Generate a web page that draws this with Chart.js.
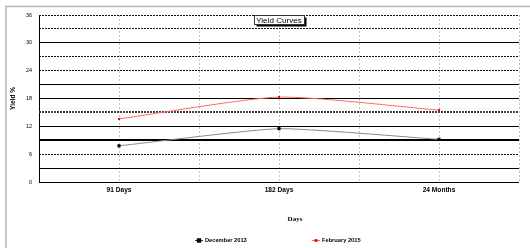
<!DOCTYPE html>
<html>
<head>
<meta charset="utf-8">
<script src="https://cdn.jsdelivr.net/npm/chart.js@4.4.1/dist/chart.umd.min.js"></script>
<style>
  html, body { margin: 0; padding: 0; background: #fff; }
  #wrap { width: 530px; height: 248px; position: relative; }
</style>
</head>
<body>
<div id="wrap"><canvas id="yield-chart" width="530" height="248"></canvas></div>
<script>
// Data
const TENORS = ['91 Days', '182 Days', '24 Months'];
const DEC_2013 = [7.8, 11.5, 9.2];
const FEB_2015 = [13.6, 18.3, 15.5];
const SERIES_NAMES = ['December 2013', 'February 2015'];
const Y_MIN = 0, Y_MAX = 36, Y_STEP = 3, Y_LABEL_STEP = 6;
const CHART_TITLE = 'Yield Curves';
const X_TITLE = 'Days';
const Y_TITLE = 'Yield %';

const FONT = '"Liberation Sans", Arial, sans-serif';

// Excel-ish mixed gridline styles, keyed by y value
const SOLID = { color: '#000', width: 1, dash: [] };
const DOTTED = { color: '#111', width: 1, dash: [2, 1] };
const HEAVY = { color: '#000', width: 2, dash: [] };
const HEAVY_DOTTED = { color: '#444', width: 2, dash: [2, 1] };
const Y_GRID = {
  0: SOLID, 3: SOLID, 6: DOTTED, 9: HEAVY, 12: SOLID, 15: HEAVY_DOTTED,
  18: SOLID, 21: SOLID, 24: DOTTED, 27: DOTTED, 30: SOLID, 33: DOTTED, 36: DOTTED
};
const V_GRID = { color: '#c4c4c4', width: 1, dash: [2, 2] };

function yStyle(ctx) {
  return (ctx.tick && Y_GRID[ctx.tick.value]) || SOLID;
}
function xStyle(ctx) {
  if (ctx.tick && ctx.tick.value === 0) return SOLID;
  return V_GRID;
}

// legend item positions (left end of the line sample)
const LEGEND_X = [195, 312];
const LEGEND_Y = 240;

const decorations = {
  id: 'decorations',
  beforeDraw(chart) {
    const c = chart.ctx;
    c.save();
    c.strokeStyle = '#b4b4b4';
    c.lineWidth = 1.5;
    c.beginPath();
    c.moveTo(6, 248);
    c.lineTo(6, 6.5);
    c.lineTo(530, 6.5);
    c.stroke();
    c.restore();
  },
  afterDraw(chart) {
    const c = chart.ctx;
    const area = chart.chartArea;
    const cx = (area.left + area.right) / 2;
    c.save();

    // boxed title with drop shadow
    c.font = '8.1px ' + FONT;
    const tw = c.measureText(CHART_TITLE).width;
    const bx = Math.round(cx - tw / 2 - 2) + 0.5, by = area.top + 0.5;
    const bw = Math.round(tw + 4), bh = 9;
    c.fillStyle = '#000';
    c.fillRect(bx + 2, by + 2, bw, bh);
    c.fillStyle = '#fff';
    c.fillRect(bx, by, bw, bh);
    c.strokeStyle = '#333';
    c.lineWidth = 1;
    c.strokeRect(bx, by, bw, bh);
    c.fillStyle = '#000';
    c.textAlign = 'center';
    c.textBaseline = 'middle';
    c.fillText(CHART_TITLE, cx, by + bh / 2 + 0.5);

    // x axis title
    c.font = 'bold 7px "Liberation Serif", "Times New Roman", serif';
    c.fillText(X_TITLE, cx + 16, 219);

    // legend
    c.font = 'bold 5.7px ' + FONT;
    c.textAlign = 'left';
    chart.data.datasets.forEach((ds, i) => {
      const x0 = LEGEND_X[i];
      c.strokeStyle = ds.legendColor;
      c.lineWidth = 1;
      c.beginPath();
      c.moveTo(x0, LEGEND_Y + 0.5);
      c.lineTo(x0 + 8, LEGEND_Y + 0.5);
      c.stroke();
      const r = ds.pointRadius;
      c.fillStyle = ds.pointBackgroundColor;
      c.fillRect(x0 + 4 - r, LEGEND_Y + 0.5 - r, r * 2, r * 2);
      c.fillStyle = '#000';
      c.fillText(ds.label, x0 + 10, LEGEND_Y + 0.5);
    });
    c.restore();
  }
};

const ctx = document.getElementById('yield-chart').getContext('2d');
new Chart(ctx, {
  type: 'line',
  data: {
    datasets: [
      {
        label: SERIES_NAMES[0],
        data: DEC_2013.map((y, i) => ({ x: i + 0.5, y })),
        borderColor: '#8a8a8a',
        borderWidth: 1,
        pointStyle: 'rect',
        pointRadius: 2.2,
        pointBackgroundColor: '#000',
        pointBorderColor: '#000',
        pointBorderWidth: 0,
        tension: 0.15,
        legendColor: '#333'
      },
      {
        label: SERIES_NAMES[1],
        data: FEB_2015.map((y, i) => ({ x: i + 0.5, y })),
        borderColor: '#ff6a6a',
        borderWidth: 1,
        pointStyle: 'rect',
        pointRadius: 1.4,
        pointBackgroundColor: '#ff0000',
        pointBorderColor: '#ff0000',
        pointBorderWidth: 0,
        tension: 0.2,
        legendColor: '#ff6a6a'
      }
    ]
  },
  options: {
    responsive: false,
    animation: false,
    devicePixelRatio: 1,
    layout: { padding: { left: 6, right: 11, top: 15, bottom: 0 } },
    plugins: {
      legend: { display: false },
      tooltip: { enabled: false }
    },
    scales: {
      x: {
        type: 'linear',
        min: 0,
        max: TENORS.length,
        afterFit: s => { s.height = 66; },
        ticks: {
          stepSize: 0.5,
          autoSkip: false,
          maxRotation: 0,
          padding: 4,
          color: '#000',
          font: { family: FONT, size: 6.6, weight: 'bold' },
          callback: v => (Math.round(v * 2) % 2 === 1 ? TENORS[Math.floor(v)] : '')
        },
        grid: {
          drawTicks: false,
          color: c => xStyle(c).color,
          lineWidth: c => xStyle(c).width
        },
        border: { display: false, dash: c => xStyle(c).dash }
      },
      y: {
        min: Y_MIN,
        max: Y_MAX,
        afterFit: s => { s.width = 33; },
        ticks: {
          stepSize: Y_STEP,
          padding: 7,
          color: '#000',
          font: { family: FONT, size: 5.5 },
          callback: v => (v % Y_LABEL_STEP === 0 ? v : '')
        },
        grid: {
          drawTicks: false,
          color: c => yStyle(c).color,
          lineWidth: c => yStyle(c).width
        },
        border: { display: false, dash: c => yStyle(c).dash },
        title: {
          display: true,
          text: Y_TITLE,
          color: '#000',
          font: { family: FONT, size: 6.5, weight: 'bold' },
          padding: { top: 3, bottom: 0 }
        }
      }
    }
  },
  plugins: [decorations]
});
</script>
</body>
</html>
